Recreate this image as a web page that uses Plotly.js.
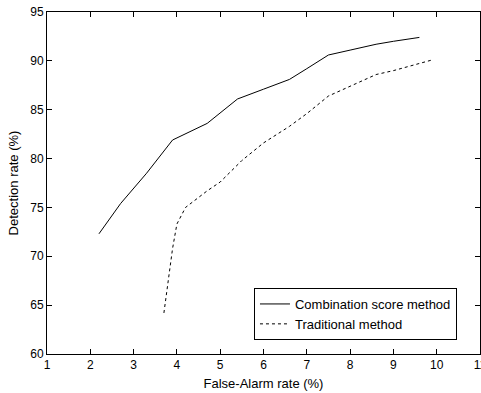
<!DOCTYPE html>
<html>
<head>
<meta charset="utf-8">
<script src="https://cdn.plot.ly/plotly-3.0.1.min.js"></script>
<style>html,body{margin:0;padding:0;background:#fff;}#chart{width:481px;height:393px;}</style>
</head>
<body>
<div id="chart"></div>
<script>
const comboX = [2.2, 2.7, 3.3, 3.9, 4.7, 5.4, 6.0, 6.6, 7.0, 7.5, 8.0, 8.6, 9.0, 9.6];
const comboY = [72.3, 75.4, 78.5, 81.9, 83.6, 86.1, 87.1, 88.1, 89.2, 90.6, 91.1, 91.7, 92.0, 92.4];
const tradX = [3.7, 3.9, 4.0, 4.2, 4.7, 5.0, 5.5, 6.0, 6.6, 7.0, 7.5, 8.0, 8.6, 9.0, 9.5, 9.9];
const tradY = [64.2, 70.8, 73.3, 75.0, 76.7, 77.6, 79.8, 81.6, 83.3, 84.6, 86.4, 87.4, 88.6, 89.0, 89.6, 90.1];
const seriesNames = ["Combination score method", "Traditional method"];
const xTicks = [1,2,3,4,5,6,7,8,9,10,11];
const yTicks = [60,65,70,75,80,85,90,95];

const font = {family: "Liberation Sans, Arial, sans-serif", size: 12, color: "#000"};
const bigFont = {family: "Liberation Sans, Arial, sans-serif", size: 13, color: "#000"};
const traces = [
  {x: comboX, y: comboY, mode: "lines", name: seriesNames[0],
   line: {color: "#000", width: 1}},
  {x: tradX, y: tradY, mode: "lines", name: seriesNames[1],
   line: {color: "#000", width: 1, dash: "3px,3px"}}
];
const axisCommon = {
  showgrid: false, zeroline: false, showline: true, linecolor: "#000", linewidth: 1,
  mirror: "ticks", ticks: "inside", ticklen: 5, tickcolor: "#000", tickwidth: 1,
  tickfont: font, automargin: false, ticklabeloverflow: "allow"
};
const layout = {
  width: 481, height: 393,
  margin: {l: 47, r: 1, t: 12, b: 39},
  paper_bgcolor: "#fff", plot_bgcolor: "#fff",
  font: font,
  showlegend: true,
  xaxis: Object.assign({}, axisCommon, {
    range: [1, 11], tickvals: xTicks, ticktext: xTicks.map(String),
    title: {text: "False-Alarm rate (%)", font: bigFont, standoff: 7}
  }),
  yaxis: Object.assign({}, axisCommon, {
    range: [60, 95], tickvals: yTicks, ticktext: yTicks.map(String),
    title: {text: "Detection rate (%)", font: bigFont, standoff: 8}
  }),
  legend: {
    x: 0.478, y: 0.193, xanchor: "left", yanchor: "top",
    bgcolor: "#fff", bordercolor: "#000", borderwidth: 1,
    font: bigFont, tracegroupgap: 0, itemwidth: 30
  }
};
Plotly.newPlot("chart", traces, layout, {displayModeBar: false, staticPlot: true});
</script>
</body>
</html>
